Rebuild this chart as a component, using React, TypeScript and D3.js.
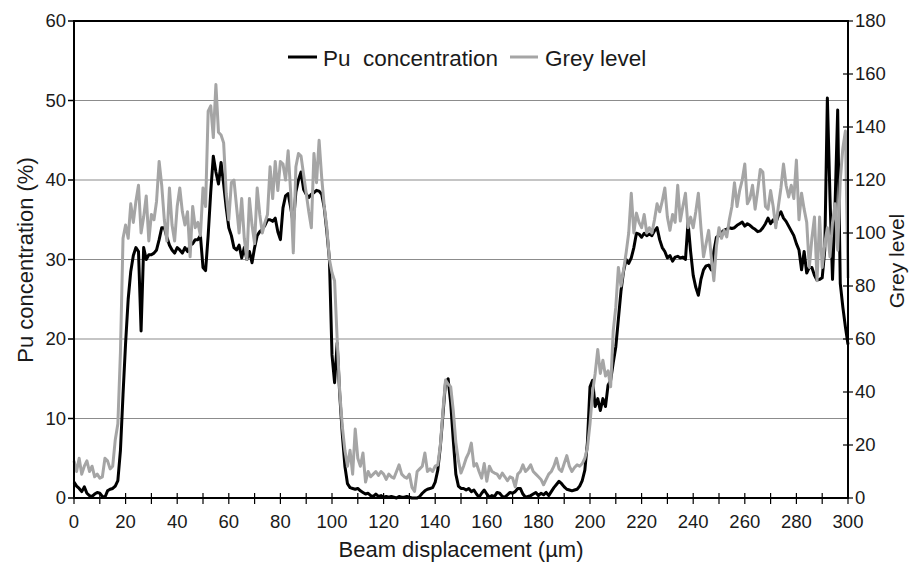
import React from "react";
import * as d3 from "d3";

// Beam displacement sampling step (µm)
const STEP_UM = 1;

// Pu concentration (%) at 0,1,2,...,300 µm
const puConcentration: number[] = [
  2.0, 1.5, 1.2, 0.8, 1.4, 0.6, 0.3, 0.2, 0.5, 0.7,
  0.6, 0.2, 0.1, 0.9, 1.1, 1.2, 1.5, 2.2, 6, 13,
  19.5, 25, 28.5, 30.5, 31.5, 31, 21, 31.5, 30, 30.6,
  30.6, 30.8, 31.2, 32.5, 34, 34, 32.8, 31.8, 31.2, 30.8,
  31.5, 31.2, 30.8, 31.5, 31, 31.8, 32, 32.5, 32.5, 33,
  29, 28.6, 33, 38.5, 43, 41, 39.5, 42.2, 39.5, 36.5,
  34, 33, 31.5, 31.2, 31.8, 30.2, 31.5, 30, 31, 29.6,
  31.5, 33, 33.5, 33.8, 34.3, 35, 35, 34.8, 35.2, 33.5,
  32.5, 36.5, 38, 38.3, 36.5, 34.5, 38.5, 40, 41, 38.8,
  38.2, 37.8, 38.2, 38.4, 38.7, 38.6, 38.2, 36.5, 33.5, 30,
  18, 14.5, 19.5, 13, 8, 4, 1.8, 1.3, 1.2, 1.1,
  1.2, 0.9, 0.7, 0.5, 0.6, 0.3, 0.2, 0.5, 0.2, 0.3,
  0.1, 0.2, 0.1, 0.2, 0.1, 0.0, 0.2, 0.1, 0.1, 0.2,
  0.1, 0, 0, 0, 0.2, 0.6, 0.9, 1.1, 1.2, 1.3,
  2, 3.5, 6.5, 10.5, 14.5, 15, 12, 7.3, 3, 1.5,
  1.2, 1.2, 1.0, 1.2, 0.8, 1.0, 0.5, 0.1, 0.6, 1.0,
  0.5, 0.1, 0.3, 0.2, 0.7, 0.6, 0.2, 0.1, 0.4, 0.7,
  0.6, 0.8, 1.2, 1.2, 0.5, 0.1, 0.2, 0.3, 0.5, 0.7,
  0.3, 0.6, 0.4, 0.7, 0.3, 0.8, 1.3, 1.7, 2.1, 1.8,
  1.4, 1.1, 1.0, 0.9, 1.0, 1.1, 1.5, 2.2, 3.5, 7,
  14, 14.8, 11.5, 12.5, 11, 12.5, 11.5, 14.2, 14.8, 17,
  19, 22.5, 26, 28.5, 30, 29.5, 30.2, 31.5, 33.3, 33.2,
  32.8, 33.3, 33, 33.2, 33, 33.6, 34, 32.5, 31.5, 31,
  30.2, 30.5, 29.8, 30.3, 30.4, 30.2, 30.3, 30, 34.7, 31,
  28, 26.5, 25.5, 27.5, 28.7, 29.2, 29.3, 28.7, 31, 32.8,
  33, 33.4, 33.7, 33.8, 34, 33.9, 34, 34.3, 34.5, 34.7,
  34.2, 34.5, 34.3, 34, 33.8, 33.5, 33.6, 34, 34.5, 35.2,
  34.5, 35, 34.6, 35.5, 36, 35.2, 34.8, 34.2, 33.6, 33,
  32, 31.2, 28.7, 31, 28.3, 29, 29, 28, 27.4, 27.5,
  27.7, 31.2, 50.3, 38, 27.5, 37, 48.8, 27, 24, 21.5,
  19.3,
];

// Grey level (0-180) at 0,1,2,...,300 µm
const greyLevel: number[] = [
  14, 10, 15, 9, 12, 14, 10, 12, 8, 9,
  7.5, 8, 15, 14, 11, 12, 22, 28, 55, 98,
  103, 98, 111, 104, 112, 118, 100, 106, 114, 97,
  107, 105, 112, 127, 118, 105, 97, 117, 103, 97,
  110, 117, 108, 103, 108, 91, 110, 102, 104, 99,
  117, 110, 146, 148, 136, 156, 138, 137, 134, 115,
  105, 119, 120, 110, 100, 113, 98, 90, 113, 103,
  96, 117, 107, 100, 104, 107, 125, 113, 127, 116,
  127, 126, 120, 131, 115, 92.5, 125, 130, 129, 122,
  115, 108, 102, 130, 119, 135, 121, 110, 102, 90,
  85, 82, 60, 40, 27, 18, 12, 18, 9, 26,
  15, 12, 17, 6, 10, 8, 9, 10, 8.5, 10,
  9, 7, 9, 8, 7.5, 10, 12.5, 9, 8, 7.5,
  9, 4, 2.5, 10, 11, 12, 17, 10, 11, 10,
  12, 12.5, 20, 33, 44.5, 43, 42, 33, 21, 14,
  9.4, 12, 15, 17, 20.7, 12, 13, 10, 7.5, 13,
  6.3, 12, 10, 9.4, 9, 7.5, 9.4, 8, 6.5, 8,
  7.5, 4.2, 9, 10, 12.5, 10, 11, 12.5, 10, 9,
  8, 7, 5, 7, 9, 10, 12, 15, 11, 10,
  13, 16, 12, 10, 11.5, 12.5, 12, 13, 15, 19,
  28, 40, 47, 56, 47, 52, 46, 48, 42, 63,
  72, 87, 80, 86, 92.5, 100, 115, 100, 107.5, 104,
  102, 107, 100, 102, 100, 105, 111, 108, 112, 117,
  106, 101, 107, 104, 118, 104.5, 110, 115, 102, 106,
  102, 108, 115, 102, 91, 96, 101, 91, 82, 95,
  102, 98, 101, 98.5, 105, 110, 119, 110, 116, 120,
  126, 111, 113, 118, 109, 116, 124, 123, 110, 109,
  116, 110, 102, 110, 117, 126, 118, 113.6, 118, 113,
  127.5, 105, 115, 109, 104, 87, 98, 106, 82, 106,
  87, 96, 102, 91, 104, 111, 93.5, 120, 132, 138.5,
  83,
];

const xMajorTicks = [0, 20, 40, 60, 80, 100, 120, 140, 160, 180, 200, 220, 240, 260, 280, 300];
const xMinorTicks = [0, 10, 20, 30, 40, 50, 60, 70, 80, 90, 100, 110, 120, 130, 140, 150, 160, 170, 180, 190, 200, 210, 220, 230, 240, 250, 260, 270, 280, 290, 300];
const leftTicks = [0, 10, 20, 30, 40, 50, 60];
const rightTicks = [0, 20, 40, 60, 80, 100, 120, 140, 160, 180];

const seriesNames = ["Pu  concentration", "Grey level"];

const W = 909;
const H = 564;
const M = { left: 74, right: 848, top: 21, bottom: 498 };
const FONT = "Arial, 'Liberation Sans', sans-serif";
const BLACK = "#000000";
const GREY = "#a5a5a5";

export default function App() {
  const x = d3.scaleLinear().domain([0, 300]).range([M.left, M.right]);
  const yL = d3.scaleLinear().domain([0, 60]).range([M.bottom, M.top]);
  const yR = d3.scaleLinear().domain([0, 180]).range([M.bottom, M.top]);

  const puLine = d3
    .line<number>()
    .x((_, i) => x(i * STEP_UM))
    .y((d) => yL(d));
  const greyLine = d3
    .line<number>()
    .x((_, i) => x(i * STEP_UM))
    .y((d) => yR(d));

  const legendY = 57;

  return (
    <svg
      width={W}
      height={H}
      style={{ position: "absolute", left: 0, top: 0, background: "#fff" }}
      fontFamily={FONT}
    >
      <rect x={0} y={0} width={W} height={H} fill="#fff" />
      {/* gridlines */}
      {leftTicks
        .filter((t) => t > 0 && t < 60)
        .map((t) => (
          <line key={"g" + t} x1={M.left} x2={M.right} y1={yL(t)} y2={yL(t)} stroke="#8c8c8c" strokeWidth={1.2} />
        ))}

      {/* series */}
      <path d={puLine(puConcentration) || ""} fill="none" stroke={BLACK} strokeWidth={3} strokeLinejoin="round" />
      <path d={greyLine(greyLevel) || ""} fill="none" stroke={GREY} strokeWidth={3} strokeLinejoin="round" />

      {/* frame */}
      <rect x={M.left} y={M.top} width={M.right - M.left} height={M.bottom - M.top} fill="none" stroke={BLACK} strokeWidth={2} />

      {/* left axis ticks */}
      {leftTicks.map((t) => (
        <g key={"l" + t}>
          <line x1={M.left - 6} x2={M.left} y1={yL(t)} y2={yL(t)} stroke={BLACK} strokeWidth={1.5} />
          <text x={66} y={yL(t)} dy="0.35em" textAnchor="end" fontSize={18.5} fill="#1a1a1a">
            {t}
          </text>
        </g>
      ))}

      {/* right axis ticks */}
      {rightTicks.map((t) => (
        <g key={"r" + t}>
          <line x1={M.right - 5} x2={M.right + 5} y1={yR(t)} y2={yR(t)} stroke={BLACK} strokeWidth={1.2} />
          <text x={855} y={yR(t)} dy="0.35em" textAnchor="start" fontSize={18.5} fill="#1a1a1a">
            {t}
          </text>
        </g>
      ))}

      {/* bottom axis ticks */}
      {xMinorTicks.map((t) => (
        <line key={"m" + t} x1={x(t)} x2={x(t)} y1={M.bottom - 5} y2={M.bottom + 6} stroke={BLACK} strokeWidth={1.2} />
      ))}
      {xMajorTicks.map((t) => (
        <text key={"x" + t} x={x(t)} y={528} textAnchor="middle" fontSize={18.5} fill="#1a1a1a">
          {t}
        </text>
      ))}

      {/* axis titles */}
      <text x={461} y={557} textAnchor="middle" fontSize={22} fill="#1a1a1a">
        Beam displacement (µm)
      </text>
      <text transform={`translate(33,260) rotate(-90)`} textAnchor="middle" fontSize={22} fill="#1a1a1a">
        Pu concentration (%)
      </text>
      <text transform={`translate(904,261) rotate(-90)`} textAnchor="middle" fontSize={21} fill="#1a1a1a">
        Grey level
      </text>

      {/* legend */}
      <line x1={288} x2={317} y1={legendY} y2={legendY} stroke={BLACK} strokeWidth={3} />
      <text x={323} y={66} fontSize={22.5} fill="#1a1a1a" style={{ whiteSpace: "pre" }} xmlSpace="preserve">
        {seriesNames[0]}
      </text>
      <line x1={510} x2={538} y1={legendY} y2={legendY} stroke={GREY} strokeWidth={3} />
      <text x={545} y={66} fontSize={22.5} fill="#1a1a1a">
        {seriesNames[1]}
      </text>
    </svg>
  );
}
